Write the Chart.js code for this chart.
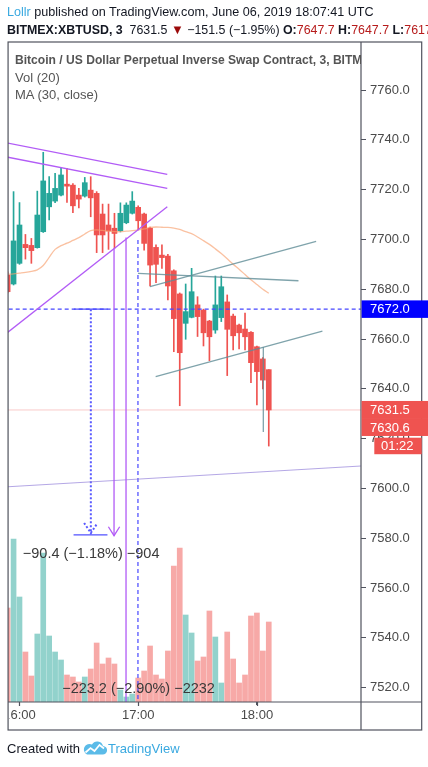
<!DOCTYPE html>
<html>
<head>
<meta charset="utf-8">
<script src="https://cdn.jsdelivr.net/npm/chart.js@4.4.1/dist/chart.umd.min.js"></script>
<style>
  html, body { margin: 0; padding: 0; background: #fff; }
  body { width: 428px; height: 767px; position: relative; overflow: hidden; font-family: "Liberation Sans", Arial, sans-serif; }
  #chart { position: absolute; left: 0; top: 0; }
  .abs { position: absolute; white-space: nowrap; }
  #hdr1 { left: 7px; top: 5px; font-size: 12.6px; line-height: 15px; color: #131722; }
  #hdr2 { left: 7px; top: 22px; width: 421px; overflow: hidden; font-size: 12.4px; line-height: 15px; color: #131722; }
  #hdr2 .r { color: #b71c1c; }
  #hdr2 .tri { color: #9b0a0a; font-size: 13px; }
  .blue { color: #3aa9e0; }
  #legend { left: 15px; top: 52px; width: 346px; overflow: hidden; font-size: 13px; line-height: 17px; color: #555; }
  #legend .t { font-weight: bold; font-size: 12.1px; }
  #foot { left: 7px; top: 741px; font-size: 13px; line-height: 15px; color: #131722; }
  #foot svg { vertical-align: -2px; margin: 0 1px 0 3px; }
</style>
</head>
<body>
<canvas id="chart" width="428" height="767"></canvas>
<div id="hdr1" class="abs"><span class="blue">Lollr</span> published on TradingView.com, June 06, 2019 18:07:41 UTC</div>
<div id="hdr2" class="abs"><b>BITMEX:XBTUSD, 3</b>&nbsp; 7631.5 <span class="tri">▼</span> −151.5 (−1.95%) <b>O:</b><span class="r">7647.7</span> <b>H:</b><span class="r">7647.7</span> <b>L:</b><span class="r">7617.0</span> <b>C:</b><span class="r">7631.5</span></div>
<div id="legend" class="abs"><div class="t">Bitcoin / US Dollar Perpetual Inverse Swap Contract, 3, BITMEX</div><div>Vol (20)</div><div>MA (30, close)</div></div>
<div id="foot" class="abs">Created with<svg width="24" height="14" viewBox="0 0 24 14"><path d="M4 13.5h15.5a4.3 4.3 0 0 0 0.5-8.6a6 6 0 0 0-11-1.4a4.6 4.6 0 0 0-5 10z" fill="#5bbbe8"/><path d="M2.5 11.5l5-4.5 4 3 5-6 4.5 3.5" stroke="#fff" stroke-width="1.7" fill="none"/></svg><span class="blue">TradingView</span></div>
<script>
// 3 minute candles
const times = ['15:54','15:57','16:00','16:03','16:06','16:09','16:12','16:15','16:18','16:21',
  '16:24','16:27','16:30','16:33','16:36','16:39','16:42','16:45','16:48','16:51',
  '16:54','16:57','17:00','17:03','17:06','17:09','17:12','17:15','17:18','17:21',
  '17:24','17:27','17:30','17:33','17:36','17:39','17:42','17:45','17:48','17:51',
  '17:54','17:57','18:00','18:03','18:06'];
const open = [7685.7,7682.1,7690.4,7698.0,7697.6,7696.7,7703.1,7713.1,7715.4,7717.8,
  7722.2,7721.8,7717.8,7717.4,7719.8,7718.5,7710.2,7705.8,7704.5,7703.5,
  7706.7,7710.5,7712.9,7710.2,7704.5,7696.8,7693.7,7693.3,7687.4,7678.1,
  7666.3,7668.7,7673.7,7671.6,7667.2,7663.6,7668.6,7674.9,7669.2,7665.6,
  7664.0,7662.7,7656.9,7652.0,7647.7];
const high = [7687.0,7719.2,7714.8,7702.0,7700.4,7719.4,7735.0,7725.2,7726.5,7728.6,
  7728.6,7722.4,7720.5,7724.9,7725.2,7719.2,7714.2,7714.2,7710.5,7714.7,
  7714.7,7719.2,7713.5,7710.6,7705.0,7697.8,7697.8,7694.0,7687.8,7678.5,
  7682.1,7688.4,7677.0,7672.0,7667.5,7685.3,7685.3,7677.7,7670.0,7666.0,
  7670.4,7663.0,7657.2,7652.5,7647.7];
const low = [7678.5,7681.7,7690.0,7692.1,7690.4,7696.5,7702.8,7707.8,7714.8,7717.5,
  7714.9,7710.7,7712.7,7717.0,7709.1,7694.7,7694.7,7696.0,7696.4,7703.0,
  7706.3,7710.2,7703.8,7695.7,7681.3,7682.6,7688.4,7675.7,7654.9,7633.2,
  7659.9,7668.5,7661.0,7657.2,7651.3,7662.3,7667.0,7645.3,7655.6,7656.0,
  7655.6,7642.5,7633.5,7640.0,7617.0];
const close = [7679.0,7699.4,7705.8,7696.7,7695.5,7709.8,7723.5,7718.5,7720.5,7725.9,
  7721.4,7713.5,7716.2,7722.8,7716.7,7701.8,7701.8,7703.4,7702.4,7710.5,
  7713.8,7715.4,7707.5,7698.4,7689.7,7690.0,7692.7,7681.3,7668.2,7654.5,
  7671.0,7679.0,7669.0,7662.5,7660.9,7673.7,7681.0,7663.9,7661.3,7662.5,
  7660.9,7650.5,7646.9,7643.5,7631.5];
const volume = [94,163,105,50,26,68,149,66,50,42,
  27,25,20,25,33,59,38,44,38,12,
  5,8,24,31,56,27,23,51,136,154,
  87,69,41,45,91,65,19,70,43,19,
  27,86,89,51,80];
const ma30 = [7686.0,7686.2,7686.5,7686.8,7687.2,7687.8,7689.5,7692.8,7696.0,7697.5,
  7698.5,7699.6,7700.7,7702.2,7703.5,7703.8,7703.6,7703.3,7703.1,7703.1,
  7703.3,7703.5,7703.8,7704.2,7704.8,7705.0,7704.9,7704.8,7704.5,7704.0,
  7703.1,7702.3,7701.0,7699.5,7698.0,7696.2,7694.3,7692.2,7690.0,7688.0,
  7685.9,7683.8,7681.9,7680.0,7678.4];

const priceTicks = [7520,7540,7560,7580,7600,7620,7640,7660,7680,7700,7720,7740,7760];
const timeTicks = ['16:00','17:00','18:00'];

// drawings, points are [candle index, price]
const purpleLines = [
  [[-1, 7739.2], [26.9, 7726.1]],
  [[-1, 7733.5], [26.9, 7720.5]],
  [[-1, 7660.8], [26.9, 7713.1]],
  [[17.93, 7696.4], [17.93, 7581.0]],
  [[16.98, 7584.6], [17.93, 7581.0], [18.88, 7584.6]],
  [[19.95, 7700.8], [19.95, 7500]]
];
const greyLines = [
  [[21.96, 7686.4], [49.0, 7683.4]],
  [[23.98, 7681.0], [51.98, 7699.2]],
  [[24.94, 7644.9], [53.04, 7663.2]],
  [[43.08, 7656.8], [43.08, 7622.7]]
];
const lavenderLine = [[-1, 7600.5], [61, 7609.2]];
const blueDashed = [
  [[-1, 7672.0], [61, 7672.0]],
  [[21.96, 7699.8], [21.96, 7500]]
];
const blueDotted = [
  [[14.02, 7672.0], [14.02, 7581.6]],
  [[12.89, 7586.1], [14.02, 7582.1], [15.15, 7586.1]]
];
const blueSolid = [
  [[11.11, 7581.3], [16.82, 7581.3]],
  [[11.16, 7672.0], [16.87, 7672.0]]
];
const lastPriceLine = [[-1, 7631.5], [61, 7631.5]];

const measureLabels = [
  { text: '−90.4 (−1.18%) −904', x: 14.07, y: 7573.7 },
  { text: '−223.2 (−2.90%) −2232', x: 22.06, y: 7519.4 }
];

const UP = '#26a69a', DOWN = '#ef5350';
const isUp = i => close[i] >= open[i];
const toXY = pts => pts.map(p => ({ x: p[0], y: p[1] }));

function lineSet(pts, color, width, dash, order) {
  return {
    type: 'line', data: toXY(pts), borderColor: color, borderWidth: width,
    borderDash: dash || [], pointRadius: 0, tension: 0, order: order
  };
}

const datasets = [];
purpleLines.forEach(p => datasets.push(lineSet(p, 'rgb(178,92,246)', 1.3, null, 0)));
greyLines.forEach(p => datasets.push(lineSet(p, 'rgba(95,140,150,0.8)', 1.3, null, 0)));
datasets.push(lineSet(lavenderLine, 'rgba(140,120,215,0.65)', 1.2, null, 0));
blueDashed.forEach(p => datasets.push(lineSet(p, 'rgb(70,70,255)', 1.2, [4, 3], 0)));
blueDotted.forEach(p => datasets.push(lineSet(p, 'rgb(90,90,255)', 2, [2, 2], 0)));
blueSolid.forEach(p => datasets.push(lineSet(p, 'rgb(80,80,255)', 1.3, null, 0)));

datasets.push({
  type: 'line', data: ma30.map((v, i) => ({ x: i, y: v })),
  borderColor: 'rgba(247,160,110,0.65)', borderWidth: 1.3, pointRadius: 0, tension: 0.3, order: 1
});
datasets.push({
  type: 'bar', grouped: false, order: 2, barThickness: 5, minBarLength: 1,
  data: times.map((t, i) => ({ x: i, y: [open[i], close[i]] })),
  backgroundColor: c => isUp(c.dataIndex) ? UP : DOWN
});
datasets.push({
  type: 'bar', grouped: false, order: 3, barThickness: 1,
  data: times.map((t, i) => ({ x: i, y: [low[i], high[i]] })),
  backgroundColor: c => isUp(c.dataIndex) ? UP : DOWN
});
datasets.push(lineSet(lastPriceLine, 'rgba(239,83,80,0.3)', 1, null, 4));
datasets.push({
  type: 'bar', grouped: false, order: 5, barThickness: 5, yAxisID: 'yv',
  data: volume.map((v, i) => ({ x: i, y: v })),
  backgroundColor: c => isUp(c.dataIndex) ? 'rgba(38,166,154,0.5)' : 'rgba(239,83,80,0.5)'
});

const FONT = '13px "Liberation Sans", Arial, sans-serif';

const decor = {
  id: 'decor',
  beforeDraw(chart) {
    const ctx = chart.ctx;
    ctx.save();
    ctx.fillStyle = '#fff';
    ctx.fillRect(0, 0, chart.width, chart.height);
    ctx.restore();
  },
  afterDatasetsDraw(chart) {
    const ctx = chart.ctx, xs = chart.scales.x, ys = chart.scales.y;
    ctx.save();
    ctx.font = '14.5px "Liberation Sans", Arial, sans-serif';
    ctx.fillStyle = '#3a3a3a';
    ctx.textAlign = 'center';
    ctx.textBaseline = 'middle';
    measureLabels.forEach(l => ctx.fillText(l.text, xs.getPixelForValue(l.x), ys.getPixelForValue(l.y)));
    ctx.restore();
  },
  afterDraw(chart) {
    const ctx = chart.ctx, a = chart.chartArea, ys = chart.scales.y, xs = chart.scales.x;
    ctx.save();
    // the first time label is cut by the frame
    ctx.fillStyle = '#fff';
    ctx.fillRect(0, a.bottom + 1, a.left + 1.5, xs.bottom - a.bottom - 1);
    // frame
    ctx.strokeStyle = '#50535e';
    ctx.lineWidth = 1.2;
    ctx.strokeRect(a.left, a.top, ys.right - a.left, xs.bottom - a.top);
    ctx.beginPath();
    ctx.moveTo(a.right, a.top); ctx.lineTo(a.right, xs.bottom);
    ctx.moveTo(a.left, a.bottom); ctx.lineTo(ys.right, a.bottom);
    // time tick marks
    timeTicks.forEach(t => {
      const px = Math.round(xs.getPixelForValue(times.indexOf(t))) + 0.5;
      ctx.moveTo(px, a.bottom); ctx.lineTo(px, a.bottom + 4);
    });
    ctx.stroke();
    // price tags on the axis
    ctx.font = FONT;
    ctx.textBaseline = 'middle';
    const tag = (text, yc, h, color, x0, x1, tx) => {
      ctx.fillStyle = color;
      ctx.fillRect(x0, yc - h / 2, x1 - x0, h);
      ctx.fillStyle = '#fff';
      ctx.fillText(text, tx, yc + 0.5);
    };
    const yBlue = ys.getPixelForValue(7672.0);
    tag('7672.0', yBlue, 17.5, '#0000ff', a.right + 0.6, 428, a.right + 9);
    const yLast = ys.getPixelForValue(close[close.length - 1]);
    tag('7631.5', yLast, 18, DOWN, a.right + 0.6, 428, a.right + 9);
    tag('7630.6', yLast + 17.5, 17, DOWN, a.right + 0.6, 428, a.right + 9);
    tag('01:22', yLast + 36, 16.5, DOWN, a.right + 13.3, ys.right, a.right + 20);
    ctx.restore();
  }
};

new Chart(document.getElementById('chart'), {
  type: 'bar',
  data: { datasets: datasets },
  options: {
    responsive: false,
    animation: false,
    events: [],
    layout: { padding: { left: 7, top: 42, right: 6.3, bottom: 37 } },
    plugins: { legend: { display: false }, tooltip: { enabled: false } },
    scales: {
      x: {
        type: 'linear', min: 0.076, max: 59.54, offset: false,
        grid: { offset: false, drawOnChartArea: false, tickLength: 3, color: '#50535e' },
        border: { display: false },
        afterBuildTicks: s => { s.ticks = timeTicks.map(t => ({ value: times.indexOf(t) })); },
        afterFit: s => { s.height = 28; },
        ticks: {
          callback: v => times[v], autoSkip: false, maxRotation: 0, padding: 3,
          color: '#4a4a4a', font: { family: '"Liberation Sans", Arial, sans-serif', size: 13 }
        }
      },
      y: {
        type: 'linear', position: 'right', min: 7514.2, max: 7779.3,
        grid: { drawOnChartArea: false, tickLength: 5, color: '#50535e' },
        border: { display: false },
        afterBuildTicks: s => { s.ticks = priceTicks.map(v => ({ value: v })); },
        afterFit: s => { s.width = 60.7; },
        ticks: {
          callback: v => v.toFixed(1), padding: 4,
          color: '#4a4a4a', font: { family: '"Liberation Sans", Arial, sans-serif', size: 13 }
        }
      },
      yv: { type: 'linear', display: false, min: 0, max: 660 }
    }
  },
  plugins: [decor]
});
</script>
</body>
</html>
